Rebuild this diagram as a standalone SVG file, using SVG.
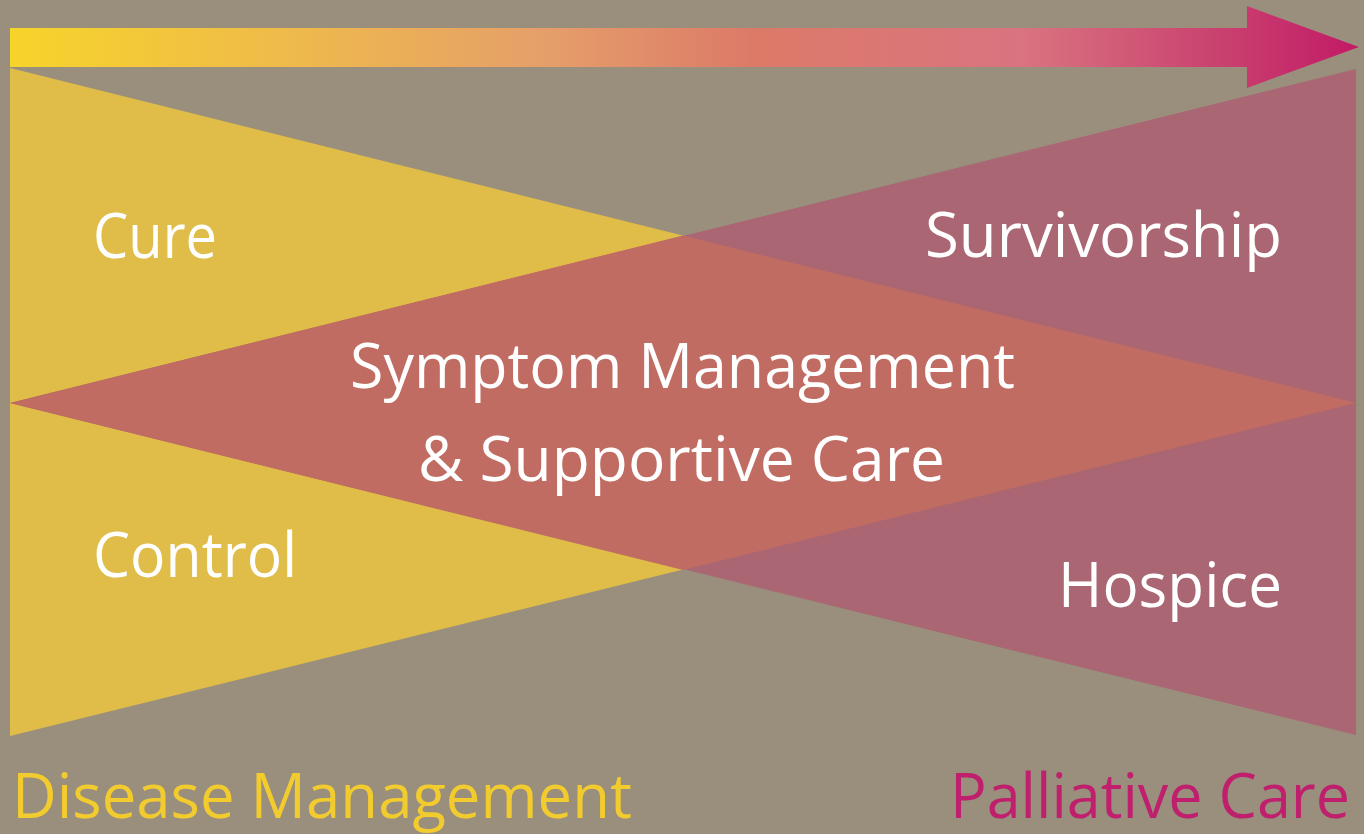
<svg xmlns="http://www.w3.org/2000/svg" width="1364" height="834" viewBox="0 0 1364 834">
<defs>
<linearGradient id="arrowGrad" x1="10" y1="0" x2="1359" y2="0" gradientUnits="userSpaceOnUse">
<stop offset="0" stop-color="#f6d42a"/>
<stop offset="0.2" stop-color="#efbb4a"/>
<stop offset="0.4" stop-color="#e59e6a"/>
<stop offset="0.55" stop-color="#dc7a68"/>
<stop offset="0.75" stop-color="#d97480"/>
<stop offset="0.9" stop-color="#c9406f"/>
<stop offset="1" stop-color="#c21a66"/>
</linearGradient>
<style>
.lbl{font-family:"Open Sans","Noto Sans","Liberation Sans",sans-serif;fill:#ffffff;font-size:62px;}
.foot{font-family:"Open Sans","Noto Sans","Liberation Sans",sans-serif;font-size:63px;}
</style>
</defs>
<rect width="1364" height="834" fill="#9a8f7d"/>
<g id="arrow">
<polygon points="10,28 1247,28 1247,6 1359,47 1247,88 1247,67 10,67" fill="url(#arrowGrad)"/>
</g>
<g id="shapes">
<polygon id="yellow-upper" points="10,68 1356,403 10,403" fill="#dfbd48"/>
<polygon id="yellow-lower" points="10,403 1356,403 10,736" fill="#dfbd48"/>
<polygon id="pink-upper" points="1356,69 1356,403 10,403" fill="#aa6672"/>
<polygon id="pink-lower" points="10,403 1356,403 1356,735" fill="#aa6672"/>
<polygon id="overlap" points="10,403 683,235.5 1356,403 683,570" fill="#c06c62"/>
</g>
<g id="cure"><text class="lbl" x="93" y="258" textLength="124" lengthAdjust="spacingAndGlyphs">Cure</text></g>
<g id="survivorship"><text class="lbl" x="925" y="257" textLength="357" lengthAdjust="spacingAndGlyphs">Survivorship</text></g>
<g id="symptom"><text class="lbl" x="350" y="388" textLength="665" lengthAdjust="spacingAndGlyphs">Symptom Management</text>
<text class="lbl" x="418" y="481" textLength="527" lengthAdjust="spacingAndGlyphs">&amp; Supportive Care</text></g>
<g id="control"><text class="lbl" x="93" y="577" textLength="204" lengthAdjust="spacingAndGlyphs">Control</text></g>
<g id="hospice"><text class="lbl" x="1058" y="607" textLength="224" lengthAdjust="spacingAndGlyphs">Hospice</text></g>
<g id="disease-management"><text class="foot" x="12" y="818" fill="#f2cb2e" textLength="620" lengthAdjust="spacingAndGlyphs">Disease Management</text></g>
<g id="palliative-care"><text class="foot" x="950" y="818" fill="#c01f6d" textLength="400" lengthAdjust="spacingAndGlyphs">Palliative Care</text></g>
<g id="connectors"></g>
</svg>
